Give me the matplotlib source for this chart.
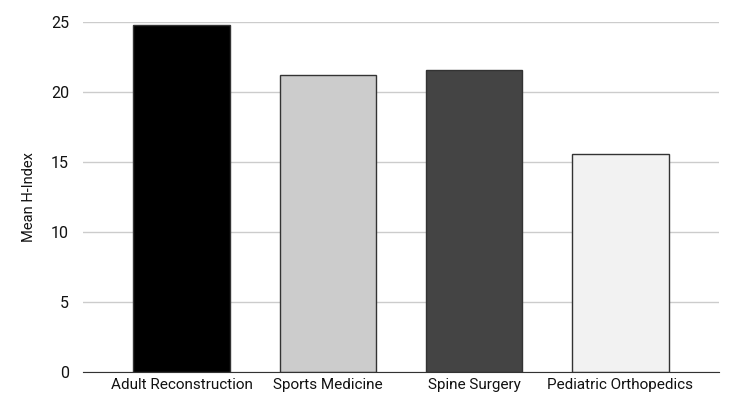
import matplotlib
matplotlib.use('Agg')
import matplotlib.pyplot as plt

categories = ['Adult Reconstruction', 'Sports Medicine', 'Spine Surgery', 'Pediatric Orthopedics']
mean_h_index = [24.8, 21.2, 21.6, 15.6]
bar_colors = ['#000000', '#cccccc', '#444444', '#f2f2f2']
y_ticks = [0, 5, 10, 15, 20, 25]

plt.rcParams['font.family'] = ['Roboto', 'DejaVu Sans']

fig = plt.figure(figsize=(7.5, 4.13), dpi=100)
ax = fig.add_axes([83/750, 41/413, 636/750, 350/413])

x = range(len(categories))
ax.bar(x, mean_h_index, width=0.66, color=bar_colors, edgecolor='#333333', linewidth=1.0, zorder=3)

ax.set_xlim(-0.675, 3.675)
ax.set_ylim(0, 25)
ax.set_yticks(y_ticks)
ax.set_xticks(list(x))
ax.set_xticklabels(categories, fontsize=11)
ax.tick_params(axis='y', length=0, labelsize=11.5, pad=10, labelcolor='#111111')
ax.tick_params(axis='x', length=0, pad=4, labelcolor='#111111')
ax.grid(axis='y', color='#cccccc', linewidth=1, zorder=0)
ax.set_axisbelow(True)

for s in ['top', 'right', 'left']:
    ax.spines[s].set_visible(False)
ax.spines['bottom'].set_color('#333333')
ax.spines['bottom'].set_zorder(4)

fig.text(29/750, 1 - 197/413, 'Mean H-Index', rotation=90, fontsize=10.5,
         color='#111111', ha='center', va='center')

fig.savefig('out.png', dpi=100)
